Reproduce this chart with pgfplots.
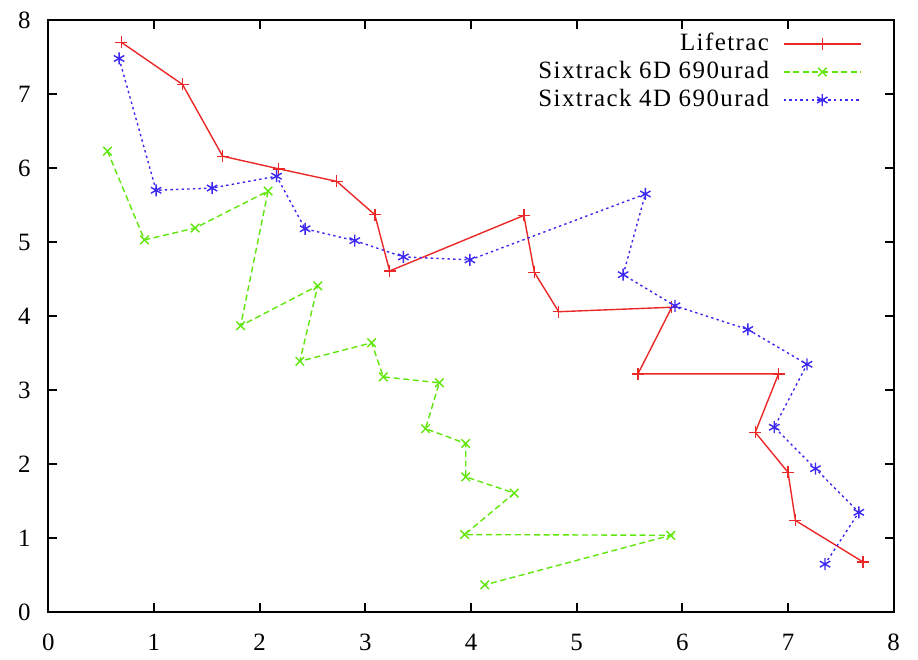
\documentclass[border=0pt]{standalone}
\usepackage{fontspec}
\setmainfont{Liberation Serif}
\newfontfamily\legendfont[LetterSpace=5.8]{Liberation Serif}
\usepackage{pgfplots}
\pgfplotsset{compat=1.18}
\definecolor{ltred}{RGB}{235,40,40}
\definecolor{stgreen}{RGB}{95,230,10}
\definecolor{stblue}{RGB}{60,40,240}
\tikzset{
  lifetrac/.style={ltred, line width=0.7bp, solid, mark=+, mark size=3bp, mark options={solid}},
  six6d/.style={stgreen, line width=0.7bp, dash pattern=on 3bp off 1.8bp, mark=x, mark size=3bp, mark options={solid}},
  six4d/.style={stblue, line width=0.7bp, dash pattern=on 1.2bp off 1.6bp, mark=asterisk, mark size=3bp, mark options={solid}},
}
% legend sample: a line with the mark in its middle
\newcommand\legendsample[1]{%
  \draw[#1, mark repeat=2, mark phase=2] plot coordinates {(0bp,0bp) (19.3bp,0bp) (38.6bp,0bp)};}
\begin{document}
\fontsize{12.5}{15}\selectfont
\begin{tikzpicture}
\begin{axis}[
  scale only axis,
  width=422.7bp, height=296.15bp,
  xmin=0, xmax=8, ymin=0, ymax=8,
  xtick={0,...,8}, ytick={0,...,8},
  tick align=inside,
  major tick length=4.5bp,
  axis line style={line width=0.9bp},
  every tick/.style={black, line width=0.9bp},
  /pgf/number format/assume math mode=true,
  tick label style={font=\fontsize{12.5}{15}\selectfont},
  xticklabel style={yshift=-6.5bp},
  yticklabel style={xshift=-4.5bp},
  legend plot pos=right,
  legend cell align=right,
  legend style={draw=none, fill=none, at={(0.9625,0.985)}, anchor=north east,
    font=\legendfont\fontsize{12.5}{15}\selectfont, row sep=-0.5bp, column sep=5bp, inner sep=0pt},
]
\addplot[lifetrac, legend image code/.code={\legendsample{lifetrac}}] coordinates {
  (0.69,7.70) (1.27,7.13) (1.65,6.16) (2.18,5.99) (2.73,5.82) (3.09,5.37)
  (3.23,4.61) (4.50,5.36) (4.60,4.59) (4.83,4.06) (5.90,4.12) (5.58,3.22)
  (6.91,3.22) (6.69,2.43) (7.00,1.89) (7.07,1.24) (7.71,0.68)
};
\addlegendentry{Lifetrac}
\addplot[six6d, legend image code/.code={\legendsample{six6d}}] coordinates {
  (0.56,6.23) (0.91,5.03) (1.39,5.19) (2.08,5.69) (1.82,3.87) (2.55,4.41)
  (2.38,3.39) (3.06,3.64) (3.17,3.18) (3.70,3.10) (3.57,2.48) (3.95,2.28)
  (3.95,1.83) (4.41,1.61) (3.94,1.05) (5.89,1.04) (4.13,0.37)
};
\addlegendentry{Sixtrack 6D 690urad}
\addplot[six4d, legend image code/.code={\legendsample{six4d}}] coordinates {
  (0.67,7.48) (1.02,5.70) (1.55,5.73) (2.16,5.89) (2.43,5.18) (2.90,5.02)
  (3.36,4.80) (3.99,4.76) (5.65,5.65) (5.44,4.56) (5.93,4.14) (6.62,3.82)
  (7.18,3.35) (6.87,2.50) (7.26,1.94) (7.67,1.35) (7.35,0.65)
};
\addlegendentry{Sixtrack 4D 690urad}
\end{axis}
% page frame around the axis box
\path (current axis.south west) ++(-24.15bp,-18.85bp) rectangle ++(459bp,325bp);
\end{tikzpicture}
\end{document}
